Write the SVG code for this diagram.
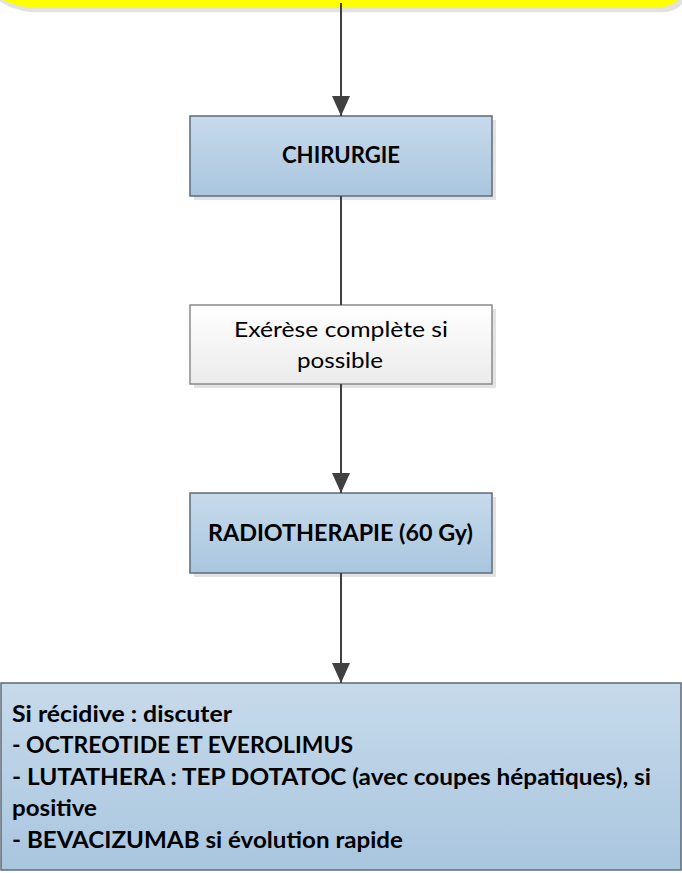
<svg xmlns="http://www.w3.org/2000/svg" width="682" height="873" viewBox="0 0 682 873">
<style>
  .t { font-family: Lato, "Liberation Sans", sans-serif; font-size: 22px; fill: #000; }
  .b { font-weight: 700; }
  .blue { fill: url(#gBlue); stroke: #5f6b78; stroke-width: 1.5; }
  .white { fill: url(#gWhite); stroke: #8a8a8a; stroke-width: 1.5; }
  .shadow { fill: #e2e2e2; }
  .conn { stroke: #404040; stroke-width: 2; fill: none; }
</style>
<defs>
  <linearGradient id="gBlue" x1="0" y1="0" x2="0" y2="1">
    <stop offset="0" stop-color="#c7daeb"/>
    <stop offset="1" stop-color="#a9c6df"/>
  </linearGradient>
  <linearGradient id="gWhite" x1="0" y1="0" x2="0" y2="1">
    <stop offset="0" stop-color="#ffffff"/>
    <stop offset="1" stop-color="#ebebeb"/>
  </linearGradient>
  <marker id="arr" viewBox="0 0 20 18" refX="20" refY="9" markerWidth="20" markerHeight="18" markerUnits="userSpaceOnUse" orient="auto">
    <path d="M0,0 L20,9 L0,18 Z" fill="#404040"/>
  </marker>
</defs>

<g id="top-node">
  <path class="shadow" transform="translate(3,5)" d="M-32,-70 H686 V-18.7 A26 26 0 0 1 660,7.3 H33 A65 65 0 0 1 -32,-57.7 Z"/>
  <path fill="#ffff00" d="M-32,-70 H686 V-18.7 A26 26 0 0 1 660,7.3 H33 A65 65 0 0 1 -32,-57.7 Z"/>
</g>

<g id="chirurgie">
  <rect class="shadow" x="194" y="120" width="302" height="80"/>
  <rect class="blue" x="190" y="116" width="302" height="80"/>
  <text class="t b" x="341" y="163" text-anchor="middle" textLength="118" lengthAdjust="spacingAndGlyphs">CHIRURGIE</text>
</g>

<g id="exerese">
  <rect class="shadow" x="194" y="309" width="302" height="79"/>
  <rect class="white" x="190" y="305" width="302" height="79"/>
  <text class="t" x="341" y="337" text-anchor="middle" textLength="214" lengthAdjust="spacingAndGlyphs">Exérèse complète si</text>
  <text class="t" x="340" y="368" text-anchor="middle" textLength="86" lengthAdjust="spacingAndGlyphs">possible</text>
</g>

<g id="radiotherapie">
  <rect class="shadow" x="194" y="497" width="302" height="80"/>
  <rect class="blue" x="190" y="493" width="302" height="80"/>
  <text class="t b" x="340.5" y="541" text-anchor="middle" textLength="265" lengthAdjust="spacingAndGlyphs">RADIOTHERAPIE (60 Gy)</text>
</g>

<g id="recidive">
  <rect class="blue" x="1" y="683" width="680" height="187"/>
  <text class="t b" x="12" y="722" textLength="220" lengthAdjust="spacingAndGlyphs">Si récidive : discuter</text>
  <text class="t b" x="12" y="753" textLength="341" lengthAdjust="spacingAndGlyphs">- OCTREOTIDE ET EVEROLIMUS</text>
  <text class="t b" x="12" y="785" textLength="639" lengthAdjust="spacingAndGlyphs">- LUTATHERA : TEP DOTATOC (avec coupes hépatiques), si</text>
  <text class="t b" x="12" y="816" textLength="85" lengthAdjust="spacingAndGlyphs">positive</text>
  <text class="t b" x="12" y="848" textLength="391" lengthAdjust="spacingAndGlyphs">- BEVACIZUMAB si évolution rapide</text>
</g>

<g id="connectors">
  <line class="conn" x1="341" y1="3" x2="341" y2="116" marker-end="url(#arr)"/>
  <line class="conn" x1="341" y1="196" x2="341" y2="305"/>
  <line class="conn" x1="341" y1="384" x2="341" y2="493" marker-end="url(#arr)"/>
  <line class="conn" x1="341" y1="573" x2="341" y2="683" marker-end="url(#arr)"/>
</g>
</svg>
